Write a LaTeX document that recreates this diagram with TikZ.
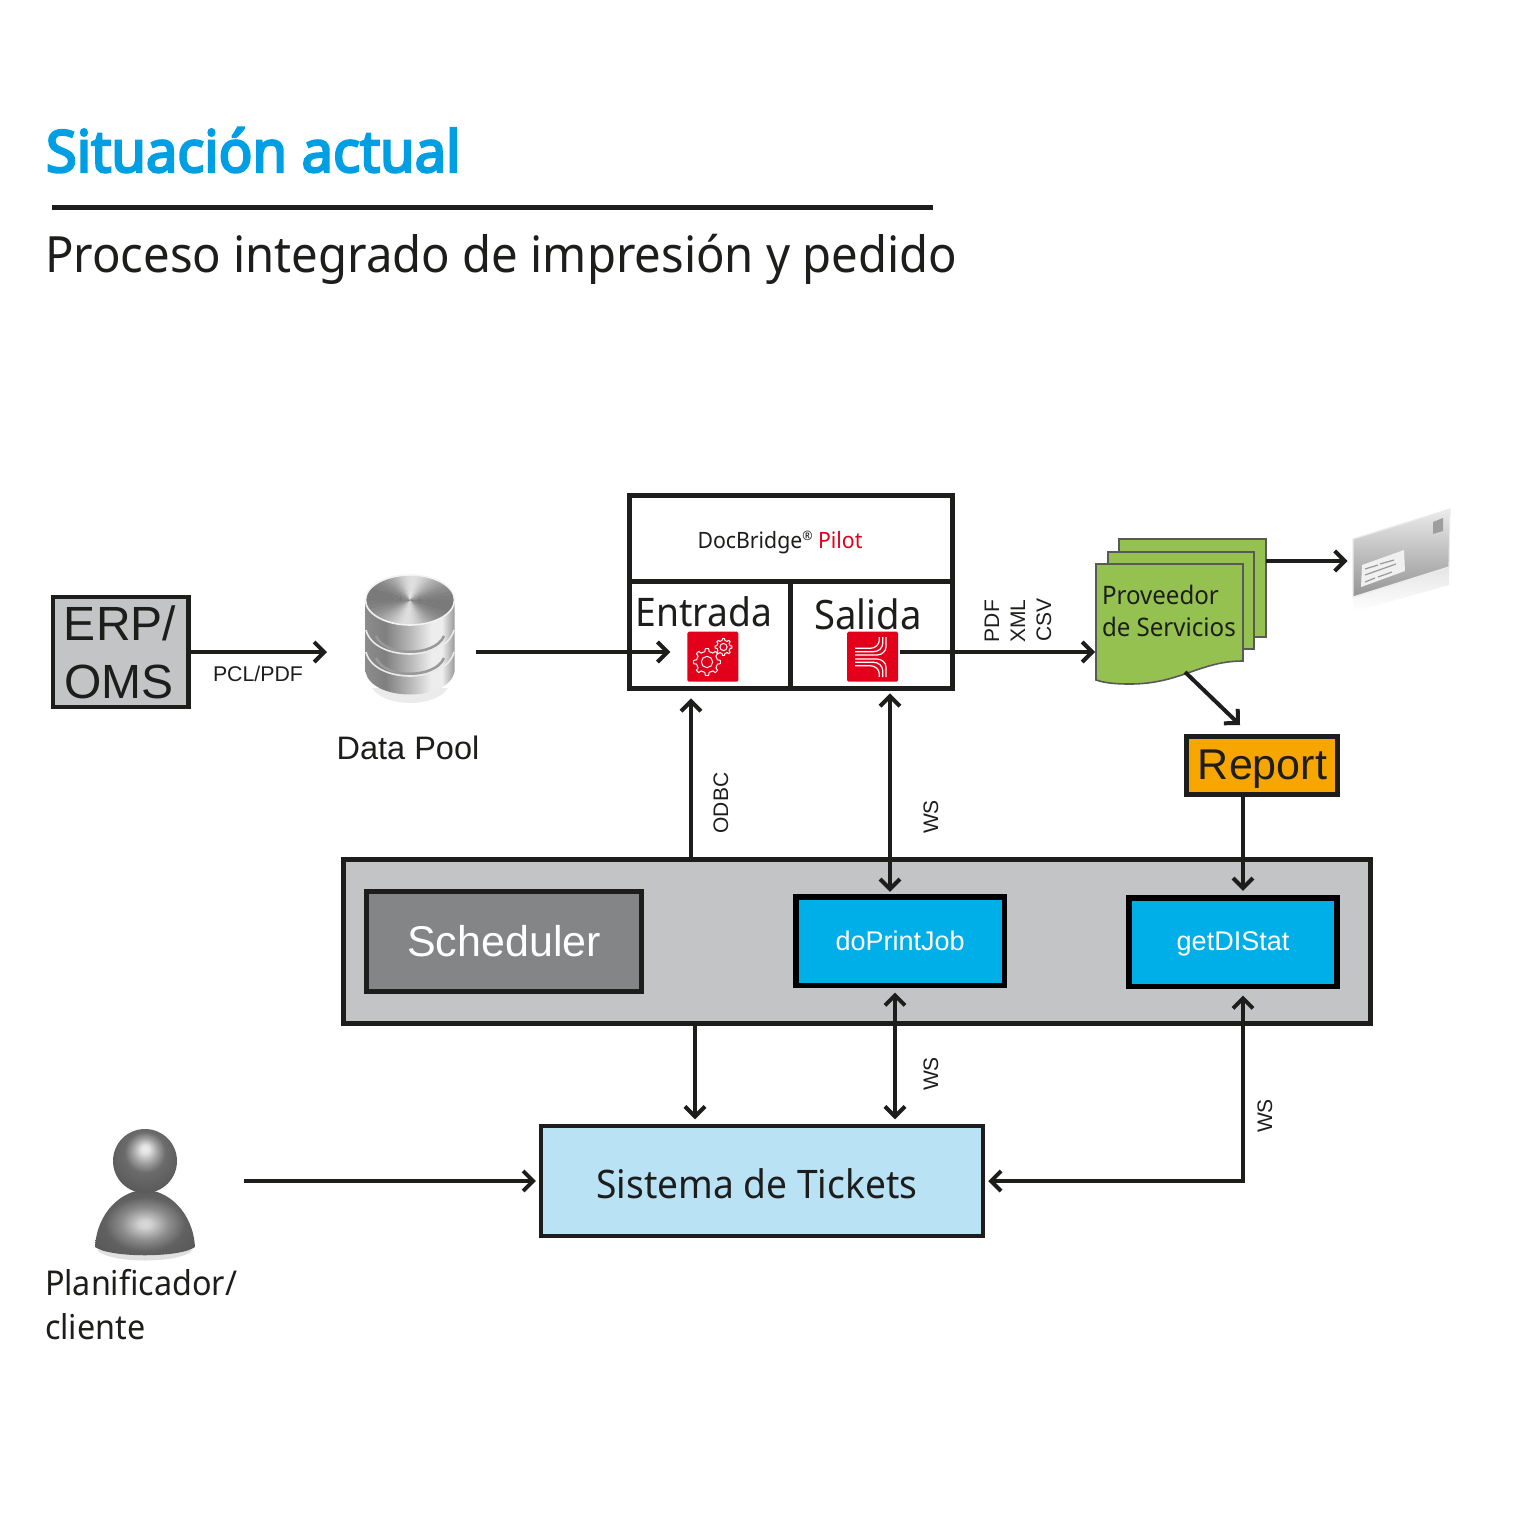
\documentclass[tikz,border=0pt]{standalone}
\usepackage{fontspec}
\setmainfont[FakeStretch=0.945]{Noto Sans}
\newfontfamily\titlef[FakeStretch=0.965,FakeBold=4]{Noto Sans}
\newfontfamily\arialf{Liberation Sans}
\usetikzlibrary{arrows.meta,calc}
\definecolor{ink}{HTML}{1D1D1B}
\definecolor{titleblue}{HTML}{009FE3}
\definecolor{panelgrey}{HTML}{C3C4C6}
\definecolor{schedgrey}{HTML}{848587}
\definecolor{jobblue}{HTML}{00AEE8}
\definecolor{ticketblue}{HTML}{B9E2F5}
\definecolor{reporange}{HTML}{F7A600}
\definecolor{docgreen}{HTML}{95C151}
\definecolor{iconred}{HTML}{E2001A}
\pgfdeclarehorizontalshading{cyl}{100bp}{color(0bp)=(white!55!black);color(25bp)=(white!55!black);color(36bp)=(white!50!black);color(50bp)=(white!72!black);color(62bp)=(white!93!black);color(68bp)=(white!93!black);color(75bp)=(white!60!black);color(100bp)=(white!60!black)}
\pgfdeclareradialshading{ballhead}{\pgfpoint{0bp}{10bp}}{color(0bp)=(white!92!black);color(3bp)=(white!90!black);color(10bp)=(white!62!black);color(16bp)=(white!42!black);color(35bp)=(white!32!black);color(50bp)=(white!30!black)}
\pgfdeclareradialshading{ballbody}{\pgfpoint{0bp}{0bp}}{color(0bp)=(white!85!black);color(3bp)=(white!82!black);color(12bp)=(white!55!black);color(20bp)=(white!38!black);color(50bp)=(white!28!black)}
\newcommand{\gearshape}[3]{%
  \begin{scope}[shift={(#1,#2)}]
    \draw[white,line width=1pt,line join=round]
      \foreach \a in {0,45,...,315} {
        (\a-22.5:#3*0.78) -- (\a-12:#3*0.78) -- (\a-7:#3) -- (\a+7:#3) -- (\a+12:#3*0.78) -- (\a+22.5:#3*0.78)
      };
    \draw[white,line width=1pt] (0,0) circle[radius=#3*0.42pt];
  \end{scope}}
\tikzset{
  x=1pt,y=-1pt,
  every node/.style={outer sep=0pt,inner sep=0pt,text=ink},
  barb/.tip={Straight Barb[length=10pt,width=20pt,line width=4pt]},
  arr/.style={draw=ink,line width=4pt,-barb},
  arrboth/.style={draw=ink,line width=4pt,barb-barb},
  hardbox/.style={draw=#1,line width=5pt,rectangle},
  hardbox/.default=ink,
  helv/.style={font=\arialf\fontsize{#1}{#1}\selectfont},
  humanist/.style={font=\fontsize{#1}{#1}\selectfont},
  rotlabel/.style={helv=21,rotate=90},
  iconbox/.style={fill=iconred,rounded corners=1.5pt,minimum width=51pt,minimum height=50pt},
  sheet/.style={fill=docgreen,draw=black!65,line width=1.6pt},
  ghost/.style={rectangle},
}
\begin{document}
\begin{tikzpicture}
\useasboundingbox (0,0) rectangle (1536,1536);
\fill[white] (0,0) rectangle (1536,1536);

% heading
\node[anchor=base west,font=\titlef\fontsize{58}{58}\selectfont,text=titleblue] (title) at (46,172) {Situación actual};
\draw[ink,line width=5pt] (52,207) -- (933,207);
\node[anchor=base west,humanist=50] (subtitle) at (45,272) {Proceso integrado de impresión y pedido};

% ERP
\node[hardbox,line width=4.5pt,fill=panelgrey,minimum width=135.7pt,minimum height=109.6pt] (erp) at (120.8,652) {};
\node[helv=48] (erptxt1) at (120,623) {ERP/};
\node[helv=48] (erptxt2) at (119,682) {OMS};
\node[helv=21.3] (pcl) at (258,674) {PCL/PDF};

% database
\fill[black!8] (372,688) .. controls (385,708) and (435,708) .. (448,688) -- cycle;
\path[shading=cyl] (365.5,600) -- (365.5,672) .. controls (372,702) and (448,702) .. (454.5,672) -- (454.5,600) -- cycle;
\draw[black!40,line width=2.5pt] (376,636) .. controls (385,657) and (435,657) .. (444,636);
\draw[black!40,line width=2.5pt] (376,658) .. controls (385,679) and (435,679) .. (444,658);
\draw[white!92!black,line width=1.6pt] (366,630) .. controls (374,662) and (446,662) .. (454,630);
\draw[white!92!black,line width=1.6pt] (366,652) .. controls (374,684) and (446,684) .. (454,652);
\begin{scope}
  \clip (410,600) ellipse[x radius=44.5pt,y radius=25pt];
  \foreach \a in {0,6,...,354}{
    \pgfmathtruncatemacro{\g}{68+20*cos(2*(\a-95))}
    \fill[white!\g!black] (410,600) -- +(\a-0.5:60) -- +(\a+6.5:60) -- cycle;
  }
\end{scope}
\draw[white!95!black,line width=1.6pt] (410,600) ellipse[x radius=44.5pt,y radius=25pt];
\node[ghost,minimum width=89pt,minimum height=125pt] (db) at (410,637.5) {};
\node[helv=32.5] (dbtxt) at (408,748) {Data Pool};

% DocBridge Pilot
\node[hardbox,minimum width=322.7pt,minimum height=86pt] (pilot) at (790.65,538.7) {};
\node[hardbox,minimum width=161.4pt,minimum height=106.7pt] (entrada) at (710,635.05) {};
\node[hardbox,minimum width=161.3pt,minimum height=106.7pt] (salida) at (871.35,635.05) {};
\node[humanist=22.5] (pilottxt) at (780,542) {DocBridge\raisebox{8pt}{\fontsize{13}{13}\selectfont ®} \textcolor{iconred}{Pilot}};
\node[humanist=39.4] (entxt) at (704,612) {Entrada};
\node[humanist=40.5] (saltxt) at (868,614) {Salida};
\node[iconbox] (iconE) at (712.8,656.7) {};
\node[iconbox] (iconS) at (872.6,656.7) {};
\gearshape{707}{662}{13.5}
\gearshape{723.5}{647}{8.5}
\foreach \yh/\xv in {648.3/879.3,651.7/882.7,655/886}{
  \draw[white,line width=1.2pt] (855,\yh) -- (\xv-9,\yh) .. controls (\xv-4,\yh) and (\xv,\yh-4) .. (\xv,\yh-8) -- (\xv,637);
}
\foreach \yh/\xv in {665.7/879.3,662.3/882.7,659/886}{
  \draw[white,line width=1.2pt] (855,\yh) -- (\xv-9,\yh) .. controls (\xv-4,\yh) and (\xv,\yh+4) .. (\xv,\yh+8) -- (\xv,677);
}
\node[rotlabel] (lpdf) at (992,621) {PDF};
\node[rotlabel] (lxml) at (1018,621) {XML};
\node[rotlabel] (lcsv) at (1044,620) {CSV};

% document stack
\path[sheet] (1119,539) rectangle (1266,637);
\path[sheet] (1108,552) rectangle (1254,649);
\path[sheet] (1096,564) -- (1243,564) -- (1243,661) .. controls (1200,661) and (1180,684) .. (1130,684) .. controls (1115,684) and (1105,683) .. (1096,680) -- cycle;
\node[ghost,minimum width=147pt,minimum height=120pt] (prov) at (1169.5,624) {};
\node[ghost,minimum width=147pt,minimum height=98pt] (provback) at (1192.5,588) {};
\node[humanist=25.5,anchor=base west] (provtxt1) at (1102,604.5) {Proveedor};
\node[humanist=25.5,anchor=base west] (provtxt2) at (1102,636) {de Servicios};

% envelope
\path[top color=black!10,bottom color=white] (1353,597) -- (1449,567) -- (1449,585) -- (1353,612) -- cycle;
\path[draw=black!8,line width=1.2pt,top color=black!8,bottom color=black!42] (1353,539) -- (1450,509) -- (1449,567) -- (1353,597) -- cycle;
\fill[black!6] (1362,565) -- (1404,550) -- (1405,571) -- (1361,587) -- cycle;
\fill[black!38] (1433,522) -- (1443,518) -- (1443,531) -- (1433,534) -- cycle;
\draw[black!40,line width=1.2pt] (1365,569) -- (1378,565) (1380,564) -- (1394,560) (1365,575) -- (1396,564) (1365,582) -- (1375,578) (1378,577) -- (1392,572);
\node[ghost,minimum width=97pt,minimum height=88pt] (envelope) at (1401.5,553) {};

% Report
\node[hardbox,fill=reporange,minimum width=151pt,minimum height=57.4pt] (report) at (1262,765.5) {};
\node[helv=43] (reporttxt) at (1262.5,769.5) {Report};

% panel
\node[hardbox,fill=panelgrey,minimum width=1027.6pt,minimum height=163.4pt] (panel) at (857,941.5) {};
\node[hardbox,fill=schedgrey,minimum width=274.4pt,minimum height=100pt,helv=43,text=white] (sched) at (504,941.5) {Scheduler};
\node[hardbox=black,line width=5.5pt,fill=jobblue,minimum width=208.3pt,minimum height=88.7pt,helv=27,text=white] (doprint) at (900.2,941.2) {doPrintJob};
\node[hardbox=black,line width=5.5pt,fill=jobblue,minimum width=208.4pt,minimum height=88.7pt] (getdi) at (1233,942.2) {};
\node[helv=27,text=white] (getditxt) at (1233,944) {getDIStat};

% tickets
\node[hardbox,line width=4pt,fill=ticketblue,minimum width=441.7pt,minimum height=110pt] (tickets) at (761.8,1181) {};
\node[humanist=39.3,anchor=base] (ticketstxt) at (757,1198) {Sistema de Tickets};

% person
\fill[black!12] (97,1250) .. controls (110,1264) and (180,1264) .. (193,1250) -- cycle;
\path[shading=ballbody] (95,1247) .. controls (97,1212) and (122,1190) .. (145,1190) .. controls (168,1190) and (193,1212) .. (195,1247) .. controls (180,1258) and (110,1258) .. (95,1247) -- cycle;
\path[shading=ballhead] (145,1161) circle[radius=32pt];
\node[ghost,minimum width=100pt,minimum height=128pt] (planner) at (145,1192) {};
\node[humanist=34.2,anchor=base west] (pl1) at (45,1295) {Planificador/};
\node[humanist=34.2,anchor=base west] (pl2) at (45,1339) {cliente};

% connector columns
\coordinate (colOdbc) at (691,0);
\coordinate (colWsA) at (890,0);
\coordinate (colWsB) at (895,0);
\coordinate (colSched) at (695,0);
\coordinate (colStat) at (1243,0);
\coordinate (rowMail) at (0,561);
\coordinate (docout) at (1185,672);
\coordinate (repin) at (1240,725);

% connectors
\draw[arr,shorten >=38.5pt] (erp.east) -- (db.west |- erp.east);
\draw[arr,shorten <=21.5pt,shorten >=17pt] (db.east |- erp.east) -- (iconE.west |- erp.east);
\draw[arr,shorten <=2pt,shorten >=1pt] (iconS.east |- erp.east) -- (prov.west |- erp.east);
\draw[arr,shorten >=5.5pt] (provback.east |- rowMail) -- (envelope.west |- rowMail);
\draw[arr] (docout) -- (repin);
\draw[arr,shorten >=10pt] (colOdbc |- panel.north) -- (colOdbc |- entrada.south);
\draw[arrboth,shorten <=5pt,shorten >=5pt] (colWsA |- salida.south) -- (colWsA |- doprint.north);
\draw[arrboth,shorten <=7pt,shorten >=6.7pt] (colWsB |- doprint.south) -- (colWsB |- tickets.north);
\draw[arr,shorten >=6.7pt] (colSched |- panel.south) -- (colSched |- tickets.north);
\draw[arr,shorten >=7pt] (colStat |- report.south) -- (colStat |- getdi.north);
\draw[arrboth,shorten <=5.6pt,shorten >=9pt] (tickets.east) -| (colStat |- getdi.south);
\draw[arr,shorten <=49pt,shorten >=5pt] (planner.east |- tickets.west) -- (tickets.west);

% connector labels
\node[rotlabel] (lodbc) at (721,803) {ODBC};
\node[rotlabel] (lws1) at (931,817) {WS};
\node[rotlabel] (lws2) at (931,1074) {WS};
\node[rotlabel] (lws3) at (1265,1116) {WS};
\end{tikzpicture}
\end{document}
